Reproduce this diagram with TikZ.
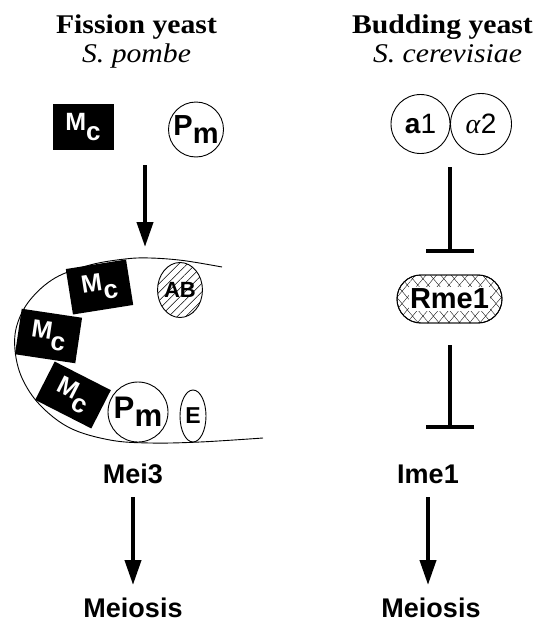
\documentclass[tikz,border=0pt]{standalone}
\usepackage{graphicx}
\usepackage{fontspec}
\setmainfont{Liberation Serif}
\newfontfamily\hv{Liberation Sans}
\usetikzlibrary{arrows.meta,patterns.meta,shapes.geometric}

% mating-type and pheromone labels with lowered subscripts
\newcommand\mcLabel{\scalebox{1.25}{M}\raisebox{-10pt}{\scalebox{1.3}{c}}}
\newcommand\pmLabel{\scalebox{1.45}{P}\raisebox{-8pt}{\scalebox{1.45}{m}}}

\begin{document}
\begin{tikzpicture}[x=1pt,y=-1pt,
  every node/.style={inner sep=0pt, outer sep=0pt},
  head/.style={font=\fontsize{27}{29}\selectfont\bfseries, anchor=base},
  species/.style={font=\fontsize{27}{29}\selectfont\itshape, anchor=base},
  lbl/.style={font=\hv\bfseries\fontsize{27}{27}\selectfont, anchor=base},
  mcbox/.style={fill=black, text=white, minimum width=61pt, minimum height=46pt,
    font=\hv\bfseries\fontsize{20}{20}\selectfont},
  prot/.style={circle, draw, line width=0.9pt, fill=white, font=\hv\bfseries\fontsize{20}{20}\selectfont},
  act/.style={line width=4pt, -{Triangle[width=16pt,length=25pt]}},
  inh/.style={line width=4pt, -{Bar[width=48pt]}},
]
\useasboundingbox (0,0) rectangle (550,621);

% ---------- headings ----------
\node[head]    (fissT) at (136.5,33) {\scalebox{1.1}[1]{Fission yeast}};
\node[species] (fissS) at (136.5,62) {\scalebox{1.1}[1]{S. pombe}};
\node[head]    (budT)  at (442.5,33) {\scalebox{1.1}[1]{Budding yeast}};
\node[species] (budS)  at (447.5,62) {\scalebox{1.1}[1]{S. cerevisiae}};

% ---------- fission yeast ----------
\node[mcbox] (mcTop) at (83,127) {\mcLabel};
\node[prot, minimum size=55pt] (pmTop) at (196,129.5) {\pmLabel};

\coordinate (arrStart) at (145,165);
\coordinate (cellTop)  at (145,247);
\draw[act] (arrStart) -- (cellTop);

% the mei3 promoter region, an open C-shaped loop
\draw[line width=0.9pt] plot[smooth, tension=0.6] coordinates {
  (222,267) (183,260.5) (150,258) (125,259) (90,265) (55,278) (30,300)
  (17,325) (15,350) (22,378) (40,405) (70,428) (110,440) (150,443)
  (200,442) (263,438)};

\node[mcbox, rotate=9]   (mc1) at (99.5,287) {\mcLabel};
\node[mcbox, rotate=-8.5] (mc2) at (48.5,336) {\mcLabel};
\node[mcbox, rotate=-27, minimum width=63pt, minimum height=43pt] (mc3) at (73,395) {\mcLabel};

\node[ellipse, draw, line width=0.9pt, fill=white, minimum width=36pt, minimum height=55pt,
      pattern={Lines[angle=45,distance=6pt,line width=0.5pt]},
      font=\hv\bfseries\fontsize{20}{20}\selectfont] (ab) at (180,290) {\scalebox{1.1}{AB}};
\node[prot, minimum size=60pt, font=\hv\bfseries\fontsize{21.5}{21.5}\selectfont] (pmIn) at (138,412) {\pmLabel};
\node[ellipse, draw, line width=0.9pt, fill=white, minimum width=26pt, minimum height=52pt,
      font=\hv\bfseries\fontsize{20}{20}\selectfont] (e) at (193,416) {\scalebox{1.15}{E}};

\node[lbl] (mei3) at (133,483) {Mei3};
\node[lbl] (meiL) at (133,617) {Meiosis};
\draw[act, shorten <=14pt, shorten >=32pt] (mei3.base) -- (meiL.base);

% ---------- budding yeast ----------
\node[prot, minimum size=59pt, font=\hv\fontsize{20}{20}\selectfont] (a1) at (420.5,124) {\scalebox{1.4}{{\bfseries a}1}};
\node[prot, minimum size=61pt, font=\hv\fontsize{20}{20}\selectfont] (alpha2) at (481,124) {\scalebox{1.4}{\textit{\rmfamily α}2}};

\coordinate (inh1s) at (450,167);
\coordinate (inh1e) at (450,253);
\draw[inh] (inh1s) -- (inh1e);

% repressor with a light hatched border band
\node[draw, line width=0.9pt, rounded corners=23.9pt, minimum width=105pt, minimum height=48pt,
      pattern={Lines[angle=50,distance=8pt,line width=0.35pt]}] (rme) at (449.5,299) {};
\node[draw, line width=0.9pt, rounded corners=23.9pt, minimum width=105pt, minimum height=48pt,
      pattern={Lines[angle=-50,distance=8pt,line width=0.35pt]}] (rmeX) at (rme) {};
\node[fill=white, inner sep=1.5pt, font=\hv\bfseries\fontsize{29}{29}\selectfont] (rmeT) at (rme) {Rme1};

\coordinate (inh2s) at (450,345);
\coordinate (inh2e) at (450,429);
\draw[inh] (inh2s) -- (inh2e);

\node[lbl] (ime1) at (428,483) {Ime1};
\node[lbl] (meiR) at (431,617) {Meiosis};
\draw[act, shorten <=14pt, shorten >=32pt] (ime1.base) -- (ime1.base |- meiR.base);
\end{tikzpicture}
\end{document}
